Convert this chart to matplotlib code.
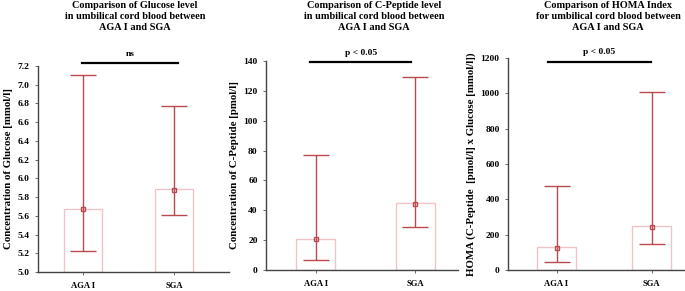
import numpy as np
import matplotlib
matplotlib.use("Agg")
import matplotlib.pyplot as plt

plt.rcParams['font.family'] = ['Liberation Serif', 'DejaVu Serif']
plt.rcParams['font.weight'] = 'bold'

groups = ['AGA I', 'SGA']

# glucose [mmol/l]
glu_bar = [5.67, 5.89]
glu_low = [5.22, 5.61]
glu_high = [7.10, 6.77]
glu_mark = [5.67, 5.88]

# c-peptide [pmol/l]
cp_bar = [21, 45]
cp_low = [7, 28.5]
cp_high = [77, 129]
cp_mark = [20.5, 44.5]

# HOMA
homa_bar = [130, 250]
homa_low = [45, 145]
homa_high = [475, 1010]
homa_mark = [125, 245]

titles = ['Comparison of Glucose level\nin umbilical cord blood between\nAGA I and SGA',
          'Comparison of C-Peptide level\nin umbilical cord blood between\nAGA I and SGA',
          'Comparison of HOMA Index\nfor umbilical cord blood between\nAGA I and SGA']
ylabels = ['Concentration of Glucose [mmol/l]',
           'Concentration of C-Peptide [pmol/l]',
           'HOMA (C-Peptide  [pmol/l] x Glucose [mmol/l])']
sig = ['ns', 'p < 0.05', 'p < 0.05']

W, H = 685, 291
fig = plt.figure(figsize=(W / 100, H / 100), dpi=100)

# pixel boxes: left, right, top, bottom
boxes = [(38, 229, 66, 272), (266, 458, 61, 270), (508, 685, 58, 270)]
xlims = [(-0.495, 1.6), (-0.5, 1.43), (-0.51, 1.35)]
widths = [0.42, 0.39, 0.41]
ylims = [(5.0, 7.2), (0, 140), (0, 1200)]
yticks = [np.arange(5.0, 7.21, 0.2), np.arange(0, 141, 20), np.arange(0, 1201, 200)]
yfmt = ['%.1f', '%d', '%d']
sig_y = [7.23, 139, 1178]
sig_x = [(-0.01, 1.04), (-0.055, 0.96), (-0.09, 0.99)]
title_x = [135, 374, 608]
data = [(glu_bar, glu_low, glu_high, glu_mark),
        (cp_bar, cp_low, cp_high, cp_mark),
        (homa_bar, homa_low, homa_high, homa_mark)]

dark = '#b84a4d'
light = '#f0c4c6'

for i in range(3):
    l, r, t, b = boxes[i]
    ax = fig.add_axes([l / W, 1 - b / H, (r - l) / W, (b - t) / H])
    bar, low, high, mark = data[i]
    x = np.arange(len(groups))
    ax.bar(x, np.array(bar) - ylims[i][0], bottom=ylims[i][0], width=widths[i],
           color='white', edgecolor=light, linewidth=1.0)
    err = [np.array(mark) - np.array(low), np.array(high) - np.array(mark)]
    ax.errorbar(x, mark, yerr=err, fmt='s', ms=3.5, mfc='none', mec=dark,
                ecolor=dark, elinewidth=1.0, capsize=9.5, capthick=1.0, mew=1.0)
    ax.set_xlim(*xlims[i])
    ax.set_ylim(*ylims[i])
    ax.set_yticks(yticks[i])
    ax.set_yticklabels([yfmt[i] % v for v in yticks[i]])
    ax.set_xticks(x)
    ax.set_xticklabels(groups)
    ax.tick_params(axis='both', labelsize=6.8, length=2.5, width=0.6, color='#555555')
    ax.tick_params(axis='x', pad=5, labelsize=6.2)
    for s in ['top', 'right']:
        ax.spines[s].set_visible(False)
    for s in ['left', 'bottom']:
        ax.spines[s].set_linewidth(1.0)
        ax.spines[s].set_color('#444444')
    ax.set_ylabel(ylabels[i], fontsize=7.8, fontweight='bold', labelpad=3)
    x0, x1 = sig_x[i]
    ax.plot([x0, x1], [sig_y[i], sig_y[i]], color='black', lw=1.6, clip_on=False)
    ax.annotate(sig[i], ((x0 + x1) / 2, sig_y[i]), xytext=(0, 4),
                textcoords='offset points', ha='center', va='bottom',
                fontsize=6.8, fontweight='bold', annotation_clip=False)
    fig.text(title_x[i] / W, 1 - 0.5 / H, titles[i], ha='center', va='top',
             fontsize=7.4, fontweight='bold', linespacing=1.35)

fig.savefig('out.png', dpi=100)
